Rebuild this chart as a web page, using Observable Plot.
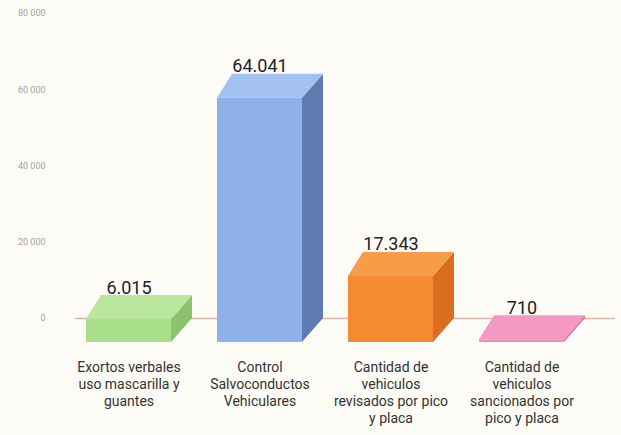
<!DOCTYPE html>
<html>
<head>
<meta charset="utf-8">
<script src="https://cdn.jsdelivr.net/npm/d3@7"></script>
<script src="https://cdn.jsdelivr.net/npm/@observablehq/plot@0.6"></script>
<style>
  html, body { margin: 0; padding: 0; background: #fcfbf5; }
  #chart { width: 621px; height: 435px; }
</style>
</head>
<body>
<div id="chart"></div>
<script>
// ---- data ----
const categories = [
  "Exortos verbales\nuso mascarilla y\nguantes",
  "Control\nSalvoconductos\nVehiculares",
  "Cantidad de\nvehiculos\nrevisados por pico\ny placa",
  "Cantidad de\nvehiculos\nsancionados por\npico y placa"
];
const values = [6015, 64041, 17343, 710];
const yTicks = [0, 20000, 40000, 60000, 80000];

// ---- style ----
const frontColors = ["#a9de8b", "#8fb0e8", "#f68a30", "#f28cba"];
const topColors   = ["#b9e79e", "#a2c1f1", "#f79d4a", "#f49ac2"];
const sideColors  = ["#8cc26f", "#5f7cb2", "#d86e1e", "#d8739f"];
const DEPTH_Y = 24, DX_L = 15, DX_R = 21;

const data = categories.map((c, i) => ({cat: c, value: values[i]}));
const locale = d3.formatLocale({decimal: ",", thousands: ".", grouping: [3]});
const valFmt = locale.format(",");
const axisFmt = d => d3.format(",")(d).replace(/,/g, " ");

const faces = (index, scales) => {
  const g = d3.create("svg:g");
  const bw = typeof scales.x.bandwidth === "function" ? scales.x.bandwidth() : scales.x.bandwidth;
  data.forEach((d, i) => {
    const xl = scales.x(d.cat), xr = xl + bw;
    const yv = scales.y(d.value), y0 = scales.y(0);
    const yf = yv + DEPTH_Y, y0f = y0 + DEPTH_Y;
    g.append("path")
      .attr("d", `M${xr},${yf}L${xr + DX_R},${yv}L${xr + DX_R},${y0}L${xr},${y0f}Z`)
      .attr("fill", sideColors[i]);
    g.append("path")
      .attr("d", `M${xl},${yf}L${xr},${yf}L${xr + DX_R},${yv}L${xl + DX_L},${yv}Z`)
      .attr("fill", topColors[i]);
  });
  return g.node();
};

const chart = Plot.plot({
  width: 621,
  height: 435,
  marginLeft: 75,
  marginRight: 6,
  marginTop: 13,
  marginBottom: 117,
  style: {background: "#fcfbf5", fontFamily: "Roboto, 'Liberation Sans', sans-serif"},
  x: {domain: categories, range: [38, 612], padding: 0.354, axis: null},
  y: {domain: [0, 80000], range: [318, 13], axis: null, label: null},
  color: {domain: categories, range: frontColors},
  marks: [
    Plot.axisY({ticks: yTicks, label: null, tickSize: 0, tickPadding: 30, fontSize: 9, color: "#a3a3a3", tickFormat: axisFmt}),
    Plot.ruleY([0], {stroke: "#d9b5aa", strokeWidth: 1.5}),
    faces,
    Plot.barY(data, {x: "cat", y: "value", fill: "cat", dy: DEPTH_Y}),
    Plot.text(data, {x: "cat", y: "value", text: d => valFmt(d.value), lineAnchor: "bottom", fontSize: 18, fill: "#222", dy: -2}),
    Plot.text(data, {x: "cat", text: "cat", frameAnchor: "bottom", lineAnchor: "top", dy: 42, fontSize: 14, lineHeight: 1.2, fill: "#333"})
  ]
});
document.getElementById("chart").appendChild(chart);
</script>
</body>
</html>
